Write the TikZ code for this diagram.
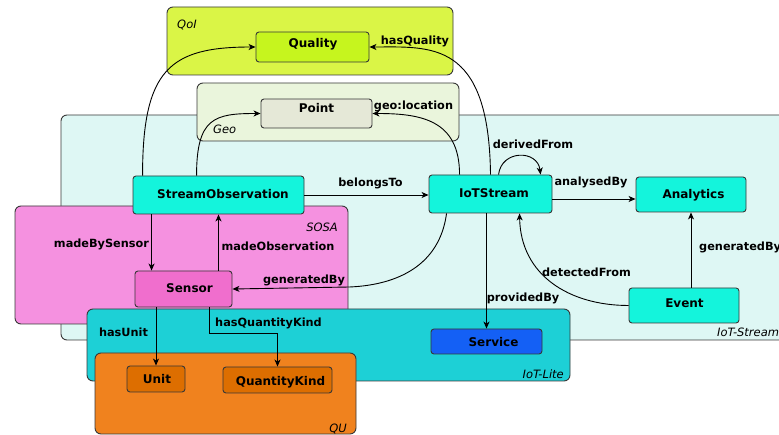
\documentclass[tikz,border=0pt]{standalone}
\usepackage{fontspec}
\setmainfont{DejaVu Sans}
\usetikzlibrary{arrows.meta,calc}

% group (ontology) colours
\definecolor{qoifill}{HTML}{DAF546}
\definecolor{geofill}{HTML}{EAF5DC}
\definecolor{streamfill}{HTML}{DEF7F4}
\definecolor{sosafill}{HTML}{F591E0}
\definecolor{litefill}{HTML}{1DD0D6}
\definecolor{qufill}{HTML}{F0821E}
% class colours
\definecolor{qualityfill}{HTML}{C6F51E}
\definecolor{pointfill}{HTML}{E5E8D7}
\definecolor{turq}{HTML}{14F4DC}
\definecolor{sensorfill}{HTML}{F06ECD}
\definecolor{servicefill}{HTML}{1460F5}
\definecolor{unitfill}{HTML}{DD6E00}
\definecolor{edgegray}{HTML}{383838}

\begin{document}
\begin{tikzpicture}[x=1pt,y=-1pt,
  group/.style={draw=edgegray, line width=0.9pt, rounded corners=6pt, inner sep=0pt},
  cls/.style={draw=edgegray, line width=0.9pt, rounded corners=3pt, inner sep=0pt},
  nlabel/.style={font=\fontsize{12}{14}\selectfont\bfseries, anchor=base, inner sep=0pt},
  elabel/.style={font=\fontsize{11.3}{13}\selectfont\bfseries, anchor=base, inner sep=0pt},
  glabel/.style={font=\fontsize{11.5}{13}\selectfont\itshape, inner sep=0pt},
  rel/.style={draw=black, line width=0.9pt, -{Stealth[length=7pt,width=6pt,inset=2pt]}}
]
\useasboundingbox (0,0) rectangle (779,435);
\clip (0,0) rectangle (779,435);

% ontology groups, back to front
\node[group, fill=streamfill, minimum width=739pt, minimum height=225pt] (gstream) at (430.5,227.5) {};
\node[group, fill=qoifill, minimum width=286pt, minimum height=68pt] (gqoi) at (310,41) {};
\node[group, fill=geofill, minimum width=262pt, minimum height=58pt] (ggeo) at (328,112) {};
\node[group, fill=sosafill, minimum width=333pt, minimum height=118pt] (gsosa) at (181.5,265) {};
\node[group, fill=litefill, minimum width=483pt, minimum height=72pt] (glite) at (328.5,345) {};
\node[group, fill=qufill, minimum width=261pt, minimum height=81pt] (gqu) at (225.5,393.5) {};

\node[glabel, anchor=base west] (tqoi) at (177,29) {QoI};
\node[glabel, anchor=base west] (tgeo) at (213,134) {Geo};
\node[glabel, anchor=base east] (tsosa) at (338,232) {SOSA};
\node[glabel, anchor=base west] (tstream) at (717,337) {IoT-Stream};
\node[glabel, anchor=base east] (tlite) at (564,379) {IoT-Lite};
\node[glabel, anchor=base east] (tqu) at (347,432) {QU};

% classes
\node[cls, fill=qualityfill, minimum width=113pt, minimum height=30pt] (qu) at (312.5,47) {};
\node[cls, fill=pointfill, minimum width=111pt, minimum height=29pt] (pt) at (316.5,113.5) {};
\node[cls, fill=turq, minimum width=171pt, minimum height=38pt] (so) at (218.5,195) {};
\node[cls, fill=turq, minimum width=123pt, minimum height=38pt] (ios) at (490.5,194) {};
\node[cls, fill=turq, minimum width=110pt, minimum height=35pt] (an) at (691,194.5) {};
\node[cls, fill=turq, minimum width=110pt, minimum height=35pt] (ev) at (684,305.5) {};
\node[cls, fill=sensorfill, minimum width=97pt, minimum height=36pt] (se) at (183.5,289) {};
\node[cls, fill=servicefill, minimum width=111pt, minimum height=25pt] (sv) at (486.5,341.5) {};
\node[cls, fill=unitfill, minimum width=58pt, minimum height=26pt] (un) at (156,379) {};
\node[cls, fill=unitfill, minimum width=109pt, minimum height=26pt] (qk) at (277.5,380) {};

\node[nlabel] (qu-t) at (313,48) {Quality};
\node[nlabel] (pt-t) at (316.5,113) {Point};
\node[nlabel] (so-t) at (223,199) {StreamObservation};
\node[nlabel] (ios-t) at (494,198) {IoTStream};
\node[nlabel] (an-t) at (693.5,199) {Analytics};
\node[nlabel] (ev-t) at (684.5,308) {Event};
\node[nlabel] (se-t) at (189.5,293) {Sensor};
\node[nlabel] (sv-t) at (493.5,347) {Service};
\node[nlabel] (un-t) at (157,384) {Unit};
\node[nlabel] (qk-t) at (280.5,385) {QuantityKind};

% relations
\draw[rel] ($(so.north west)+(10,0)$) .. controls +(0,-106) and +(-86,0) .. (qu.west);
\draw[rel] ($(so.north west)+(64,0)$) .. controls +(0,-58) and +(-46,0) .. (pt.west);
\draw[rel] (ios.north) .. controls +(-1.5,-135) and +(61,0) .. (qu.east);
\draw[rel] ($(ios.north west)+(31,0)$) .. controls +(0,-55) and +(48,0) .. (pt.east);
\draw[rel] ($(ios.north west)+(70,0)$) .. controls +(3,-25) and +(-3,-25) .. ($(ios.north west)+(112,0)$);
\draw[rel] ($(ios.south west)+(18,0)$) .. controls +(-7,52) and +(48,-2) .. ($(se.east)+(117,-2)$) -- (se.east);
\draw[rel] (ev.west) .. controls +(-59,0) and +(1,62) .. ($(ios.south west)+(91,0)$);
\draw[rel] (so.east) -- (so.east -| ios.west);
\coordinate (ab) at ($(ios.east)+(0,5)$);
\draw[rel] (ab) -- (ab -| an.west);
\draw[rel] (ev.north -| an.south) -- (an.south);
\draw[rel] (ios.south -| sv.north) -- (sv.north);
\coordinate (mb) at ($(so.south west)+(19,0)$);
\draw[rel] (mb) -- (mb |- se.north);
\draw[rel] (se.north -| so.south) -- (so.south);
\draw[rel] (se.south -| un.north) -- (un.north);
\coordinate (hq) at ($(se.south east)+(-23,0)$);
\draw[rel] (hq) -- ++(0,26) -| (qk.north);

% relation names
\node[elabel] (l-hasq) at (415,45) {hasQuality};
\node[elabel] (l-geo) at (413.5,110) {geo:location};
\node[elabel] (l-der) at (533,149) {derivedFrom};
\node[elabel] (l-bel) at (370.5,187) {belongsTo};
\node[elabel] (l-ana) at (591,186) {analysedBy};
\node[elabel, anchor=base west] (l-gen2) at (699,251) {generatedBy};
\node[elabel] (l-det) at (586.5,276.5) {detectedFrom};
\node[elabel] (l-prov) at (523,302) {providedBy};
\node[elabel] (l-mbs) at (101.5,248) {madeBySensor};
\node[elabel] (l-mo) at (278,251) {madeObservation};
\node[elabel] (l-gen1) at (304,284) {generatedBy};
\node[elabel] (l-unit) at (123.5,337) {hasUnit};
\node[elabel] (l-qk) at (268.5,327) {hasQuantityKind};
\end{tikzpicture}
\end{document}
